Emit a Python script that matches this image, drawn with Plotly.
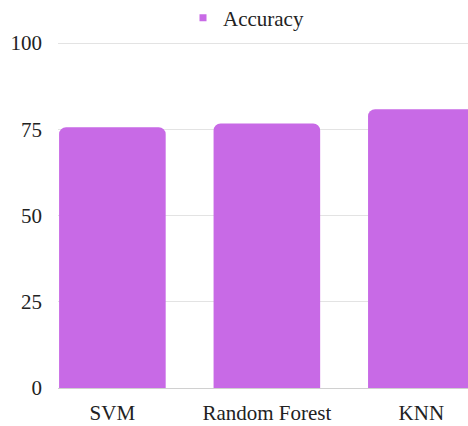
import plotly.graph_objects as go

categories = ["SVM", "Random Forest", "KNN"]
accuracy = [75.6, 76.7, 80.8]
y_ticks = [0, 25, 50, 75, 100]

BAR_COLOR = "#c86ae6"
FONT = "Liberation Serif"
FS = 21

fig = go.Figure()
fig.add_trace(go.Bar(
    x=categories, y=accuracy, marker=dict(color=BAR_COLOR, line=dict(width=0)),
    showlegend=False, hoverinfo="x+y",
))
# legend-only entry with a small square marker
fig.add_trace(go.Scatter(
    x=[None], y=[None], mode="markers", name="Accuracy",
    marker=dict(symbol="square", size=7, color=BAR_COLOR),
))

fig.update_layout(
    width=468, height=426,
    margin=dict(l=58, r=0, t=42, b=38, autoexpand=False),
    paper_bgcolor="white", plot_bgcolor="white",
    font=dict(family=FONT, size=FS, color="#222222"),
    bargap=0.31,
    barcornerradius=7,
    legend=dict(orientation="h", x=183 / 468, xanchor="left", xref="container",
                y=(426 - 18) / 426, yanchor="middle", yref="container",
                font=dict(family=FONT, size=FS, color="#222222"),
                bgcolor="rgba(0,0,0,0)"),
    xaxis=dict(range=[-0.352, 2.302], showgrid=False, showline=True,
               linecolor="#d0d0d0", linewidth=1, ticks="", ticklabelstandoff=6,
               fixedrange=True),
    yaxis=dict(range=[0, 100.3], tickvals=y_ticks, showgrid=True,
               gridcolor="#e3e3e3", gridwidth=1, zeroline=False, showline=False,
               ticks="", ticklabelstandoff=15, fixedrange=True),
)

fig.write_html(
    "out.html",
    config={"displayModeBar": False},
    post_script="document.body.style.margin='0';document.body.style.overflow='hidden';",
)
